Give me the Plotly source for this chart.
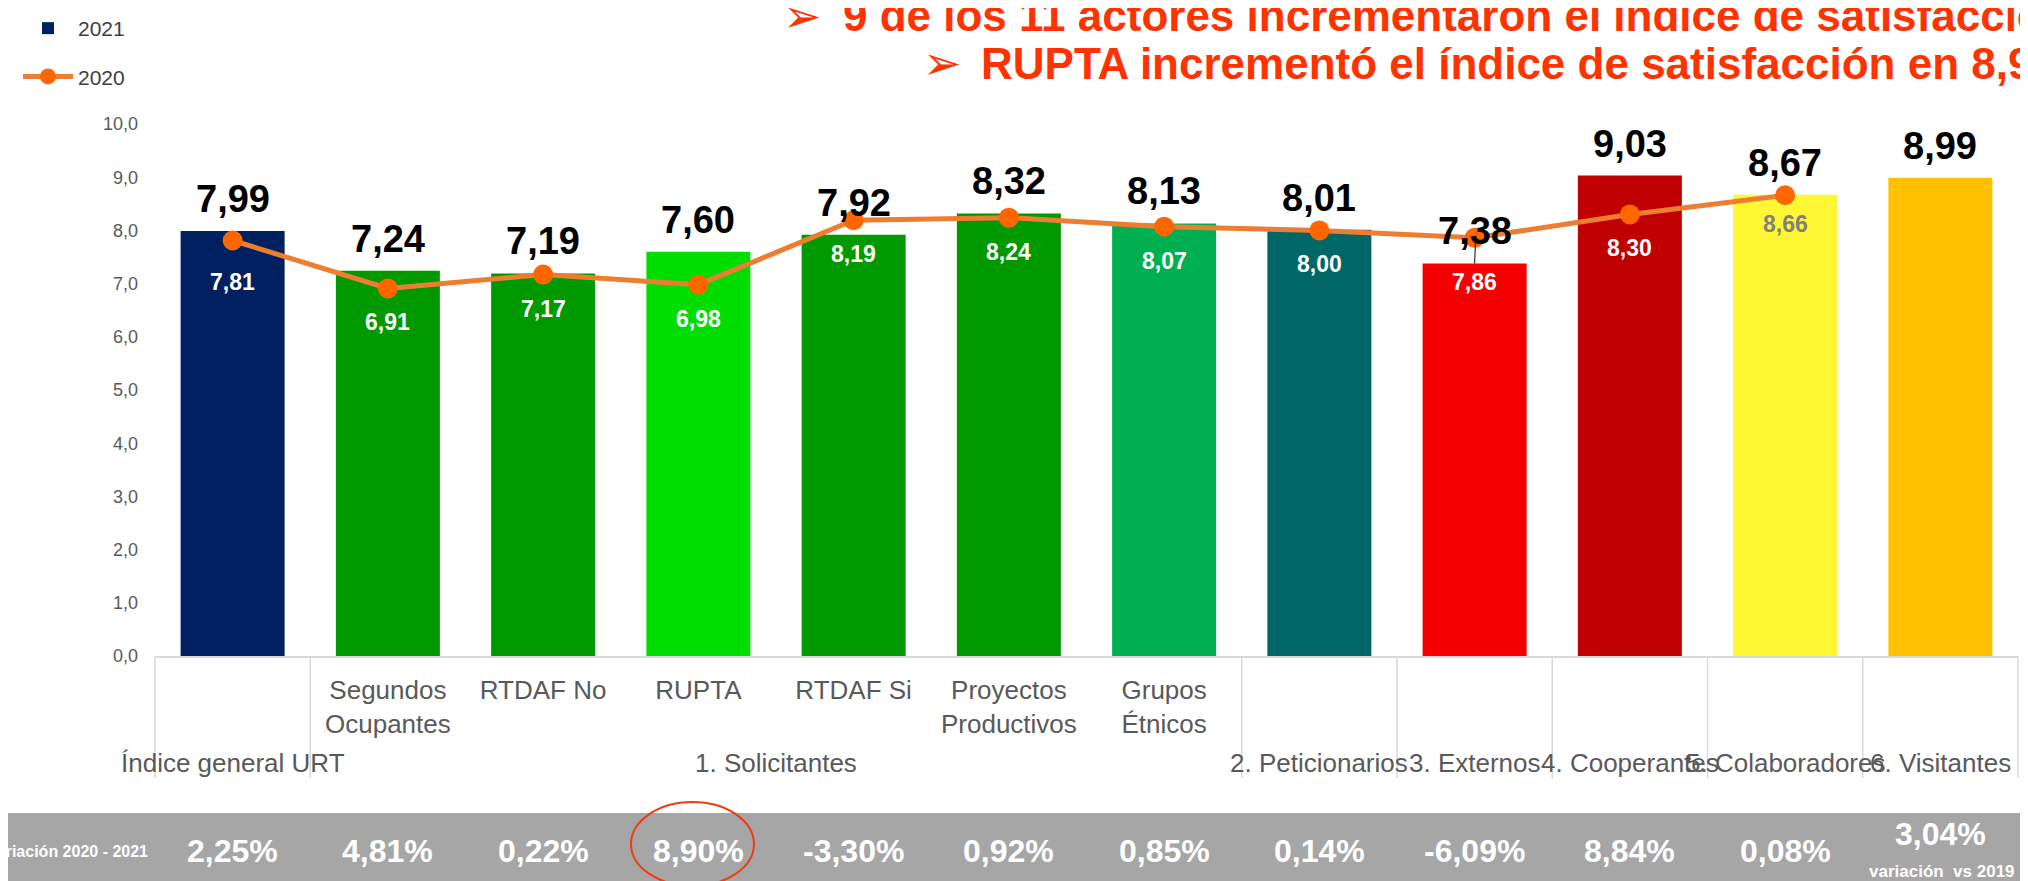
import plotly.graph_objects as go

# ---------------- data ----------------
actores = ["Índice general URT", "Segundos Ocupantes", "RTDAF No", "RUPTA", "RTDAF Si",
           "Proyectos Productivos", "Grupos Étnicos", "2. Peticionarios", "3. Externos",
           "4. Cooperantes", "5. Colaboradores", "6. Visitantes"]
grupos = ["Índice general URT", "1. Solicitantes", "1. Solicitantes", "1. Solicitantes",
          "1. Solicitantes", "1. Solicitantes", "1. Solicitantes", "2. Peticionarios",
          "3. Externos", "4. Cooperantes", "5. Colaboradores", "6. Visitantes"]
subcategorias = [" ", "Segundos<br>Ocupantes", "RTDAF No", "RUPTA", "RTDAF Si",
                 "Proyectos<br>Productivos", "Grupos<br>Étnicos", " ", " ", " ", " ", " "]
valores_2021 = [7.99, 7.24, 7.19, 7.60, 7.92, 8.32, 8.13, 8.01, 7.38, 9.03, 8.67, 8.99]
valores_2020 = [7.81, 6.91, 7.17, 6.98, 8.19, 8.24, 8.07, 8.00, 7.86, 8.30, 8.66, None]
variacion = ["2,25%", "4,81%", "0,22%", "8,90%", "-3,30%", "0,92%", "0,85%",
             "0,14%", "-6,09%", "8,84%", "0,08%", "3,04%"]
colores_barras = ["#002060", "#009900", "#009900", "#00DD00", "#009900", "#009900",
                  "#00B050", "#006666", "#F50000", "#C00000", "#FFF733", "#FFC000"]
colores_etiqueta_2020 = ["white"] * 10 + ["#808080", "white"]
titulo_1 = "9 de los 11 actores incrementaron el índice de satisfacción"
titulo_2 = "RUPTA incrementó el índice de satisfacción en 8,90%"

# label placement tweaks (pixels below the 2020 marker), default 34
desplazamiento_2020 = {0: 41, 8: 44, 10: 29}

# ---------------- geometry helpers (page pixel coordinates) ----------------
PAGE_W, PAGE_H = 2028, 881
BODY = 8                      # default body margin of the html page
FIG_W, FIG_H = PAGE_W - BODY, PAGE_H - BODY
L, R, T, B = 155, 2018, 124, 656   # plot area in page pixels
PW, PH = R - L, B - T


def px_x(x):
    return (x - L) / PW


def px_y(y):
    return (B - y) / PH


def fmt(v):
    return f"{v:.2f}".replace(".", ",")


n = len(valores_2021)

fig = go.Figure()
fig.add_trace(go.Bar(
    x=actores, y=valores_2021, name="2021",
    marker=dict(color=colores_barras, line=dict(width=0)),
    legendgroup="a", hoverinfo="skip",
))
fig.add_trace(go.Scatter(
    x=actores, y=valores_2020, name="2020", mode="lines+markers",
    line=dict(color="#ED7D31", width=5),
    marker=dict(color="#FF6600", size=20),
    legendgroup="b", connectgaps=False, hoverinfo="skip",
))

ann = []
# 2021 labels above bars
for i, v in enumerate(valores_2021):
    ann.append(dict(x=(i + 0.5) / n, xref="paper", y=v, yref="y",
                    text=f"<b>{fmt(v)}</b>", showarrow=False,
                    yanchor="bottom", xanchor="center", yshift=9,
                    font=dict(family="Liberation Sans, Arial", size=38, color="black")))
# 2020 labels below markers
for i, v in enumerate(valores_2020):
    if v is None:
        continue
    ann.append(dict(x=(i + 0.5) / n, xref="paper", y=v, yref="y",
                    text=f"<b>{fmt(v)}</b>", showarrow=False,
                    yanchor="middle", xanchor="center",
                    yshift=-desplazamiento_2020.get(i, 34),
                    font=dict(family="Liberation Sans, Arial", size=23,
                              color=colores_etiqueta_2020[i])))

# group labels and dividers of the category axis
runs = []
start = 0
for i in range(1, n + 1):
    if i == n or grupos[i] != grupos[start]:
        runs.append((grupos[start], start, i))
        start = i
shapes = []
for g, a, b in runs:
    ann.append(dict(x=(a + b) / 2 / n, xref="paper", y=px_y(763), yref="paper",
                    text=g, showarrow=False, xanchor="center", yanchor="middle",
                    font=dict(family="Liberation Sans, Arial", size=26, color="#595959")))
bounds = sorted({a for _, a, _ in runs} | {b for _, _, b in runs})
for k in bounds:
    shapes.append(dict(type="line", xref="paper", yref="paper",
                       x0=k / n, x1=k / n, y0=0, y1=px_y(778),
                       line=dict(color="#D9D9D9", width=1.5)))

# variation band texts
for i, t in enumerate(variacion):
    last = i == n - 1
    ann.append(dict(x=(i + 0.5) / n, xref="paper", y=px_y(834 if last else 851), yref="paper",
                    text=f"<b>{t}</b>", showarrow=False, yanchor="middle", xanchor="center",
                    font=dict(family="Liberation Sans, Arial", size=32, color="white")))
ann.append(dict(x=px_x(1942), xref="paper", y=px_y(871), yref="paper",
                text="<b>variación  vs 2019</b>", showarrow=False,
                yanchor="middle", xanchor="center",
                font=dict(family="Liberation Sans, Arial", size=17, color="white")))
ann.append(dict(x=px_x(150), xref="paper", y=px_y(851), yref="paper",
                text="<b>Variación 2020 - 2021</b>", showarrow=False,
                yanchor="middle", xanchor="right",
                font=dict(family="Liberation Sans, Arial", size=16, color="white")))
# headline
for ax_, ay_ in [(781, 16), (921, 63)]:
    ann.append(dict(x=px_x(ax_), xref="paper", y=px_y(ay_), yref="paper",
                    text="➢", showarrow=False, xanchor="left", yanchor="middle",
                    font=dict(family="DejaVu Sans", size=46, color="#FF3300")))
ann.append(dict(x=px_x(841), xref="paper", y=px_y(15), yref="paper",
                text=f"<b>{titulo_1}</b>", showarrow=False, xanchor="left", yanchor="middle",
                font=dict(family="Liberation Sans, Arial", size=44, color="#FF3300")))
ann.append(dict(x=px_x(979), xref="paper", y=px_y(63), yref="paper",
                text=f"<b>{titulo_2}</b>", showarrow=False, xanchor="left", yanchor="middle",
                font=dict(family="Liberation Sans, Arial", size=44, color="#FF3300")))

shapes += [
    # grey variation band
    dict(type="rect", xref="paper", yref="paper",
         x0=px_x(0), x1=px_x(PAGE_W), y0=px_y(813), y1=px_y(PAGE_H + 2),
         fillcolor="#A6A6A6", line=dict(width=0), layer="below"),
    # red circle around RUPTA variation
    dict(type="circle", xref="paper", yref="paper",
         x0=px_x(631), x1=px_x(754), y0=px_y(802), y1=px_y(886),
         line=dict(color="#F03C14", width=2)),
    # leader line of the 3. Externos label
    dict(type="line", xref="paper", yref="y",
         x0=(8 + 0.5) / n, x1=(8 + 0.5) / n + 0.0005, y0=valores_2021[8], y1=valores_2021[8] + 0.45,
         line=dict(color="black", width=1)),
]

fig.update_layout(
    width=FIG_W, height=FIG_H,
    margin=dict(l=L - BODY, r=FIG_W - (R - BODY), t=T - BODY, b=FIG_H - (B - BODY),
                pad=0, autoexpand=False),
    paper_bgcolor="white", plot_bgcolor="white",
    separators=",.",
    bargap=0.33,
    showlegend=True,
    legend=dict(x=px_x(18), y=px_y(BODY), xanchor="left", yanchor="top",
                font=dict(family="Liberation Sans, Arial", size=21, color="#404040"),
                bgcolor="rgba(0,0,0,0)", tracegroupgap=18, itemwidth=50),
    font=dict(family="Liberation Sans, Arial", color="#595959"),
    annotations=ann,
    shapes=shapes,
)
fig.update_yaxes(range=[0, 10], tickvals=list(range(0, 11)), tickformat=".1f",
                 showgrid=False, zeroline=False, showline=False, ticks="",
                 ticklabelstandoff=16, automargin=False,
                 tickfont=dict(size=18, color="#595959"))
fig.update_xaxes(type="category", range=[-0.5, n - 0.5],
                 tickvals=actores, ticktext=subcategorias,
                 showline=True, linecolor="#D9D9D9", linewidth=1.5, ticks="",
                 showgrid=False, tickangle=0, automargin=False,
                 ticklabelstandoff=10,
                 tickfont=dict(size=26, color="#595959"))

fig.write_html("out.html")
